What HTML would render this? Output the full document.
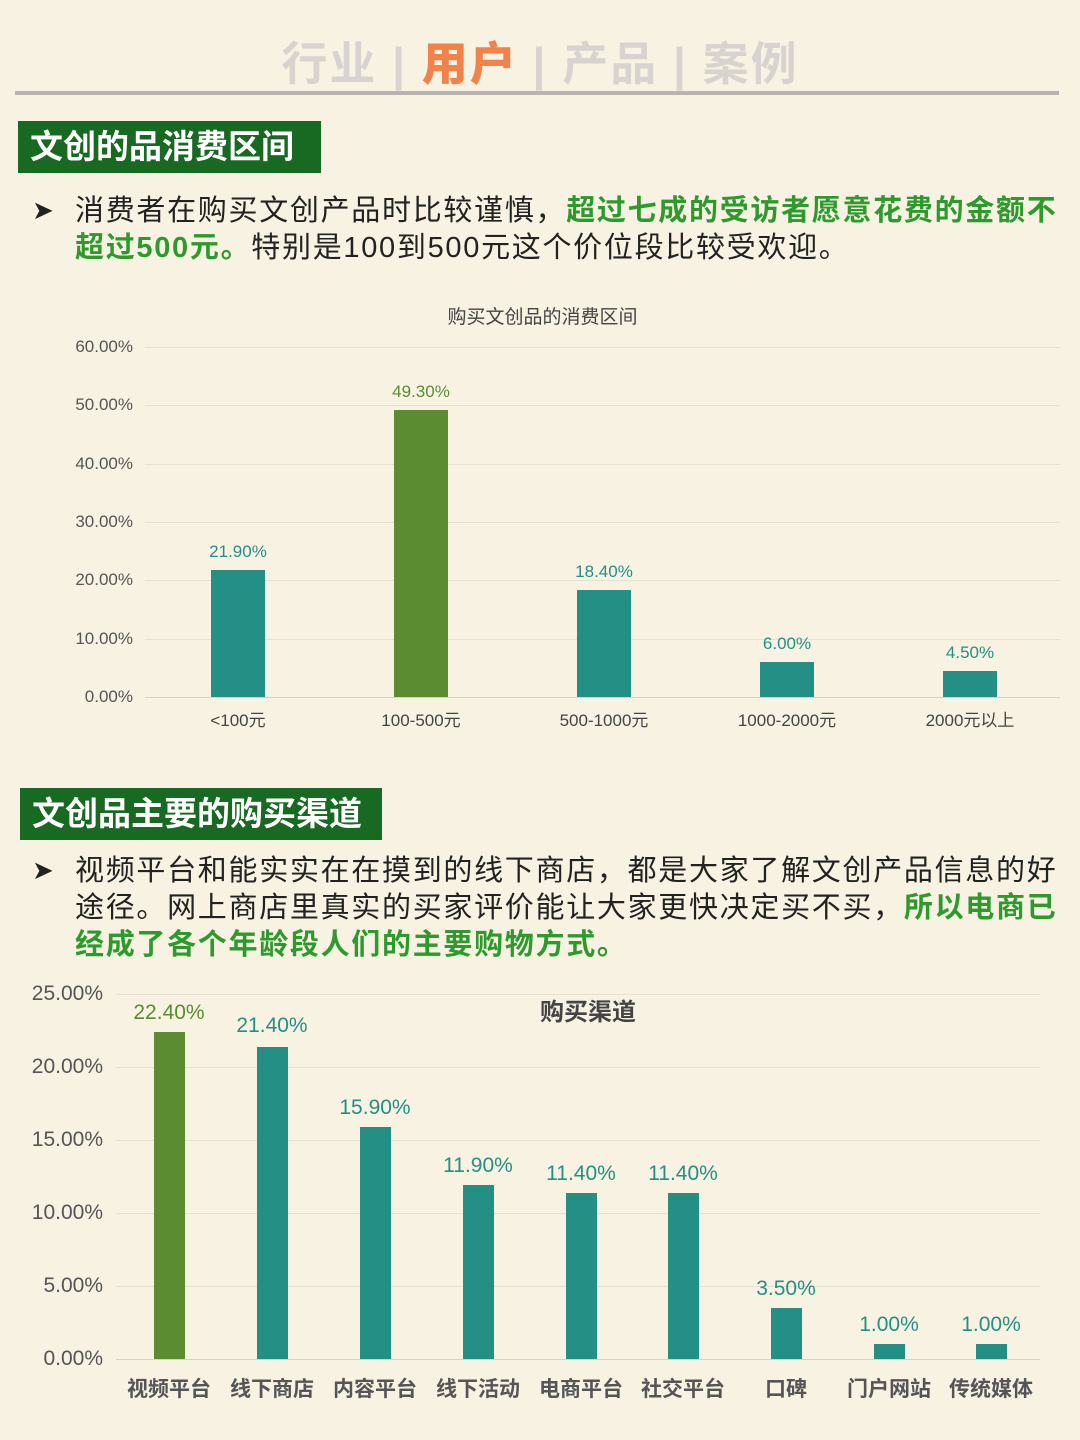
<!DOCTYPE html>
<html><head><meta charset="utf-8"><style>
*{margin:0;padding:0;box-sizing:border-box}
body{width:1080px;height:1440px;background:#f7f2e2;position:relative;overflow:hidden;font-family:"Liberation Sans","Noto Sans CJK SC",sans-serif;color:#222}
.a{position:absolute}
.nav{top:28px;left:0;width:1080px;text-align:center;font-size:46px;font-weight:bold;color:#d9d3cf;letter-spacing:2px}
.nav b{color:#f0824a}
.hd{background:#186a22;color:#fff;font-size:33px;height:52px;line-height:52px;padding-left:12px;font-weight:bold}
.p{font-size:29px;line-height:37px;left:75px;width:992px;letter-spacing:1.7px}
.g{color:#2e9a2e;font-weight:bold}
.arr{font-size:26px;left:32px}
.gl{height:1px;background:#e6e0d0}
.yl{font-size:17px;color:#555;text-align:right}
.bar{background:#248f85}
.v{font-size:17px;color:#248f85;text-align:center;width:120px}
.xl{font-size:17px;color:#444;text-align:center;width:160px}
.yl2{font-size:21px;color:#555;text-align:right;width:90px}
.v2{font-size:21px;color:#248f85;text-align:center;width:120px}
.xl2{font-size:21px;color:#555;text-align:center;width:110px;font-weight:bold}
</style></head><body>
<div class="a nav">行业 | <b>用户</b> | 产品 | 案例</div>
<div class="a" style="left:15px;top:91px;width:1044px;height:4px;background:#b8b3b0"></div>
<div class="a hd" style="left:18px;top:121px;width:303px">文创的品消费区间</div>
<div class="a arr" style="top:195px">➤</div>
<div class="a p" style="top:193px">消费者在购买文创产品时比较谨慎，<span class="g">超过七成的受访者愿意花费的金额不超过500元。</span>特别是100到500元这个价位段比较受欢迎。</div>

<div class="a" style="left:0;top:302px;width:1085px;text-align:center;font-size:19px;color:#444">购买文创品的消费区间</div>
<div class="a gl" style="left:145px;top:347px;width:915px"></div>
<div class="a gl" style="left:145px;top:405px;width:915px"></div>
<div class="a gl" style="left:145px;top:464px;width:915px"></div>
<div class="a gl" style="left:145px;top:522px;width:915px"></div>
<div class="a gl" style="left:145px;top:580px;width:915px"></div>
<div class="a gl" style="left:145px;top:639px;width:915px"></div>
<div class="a gl" style="left:145px;top:697px;width:915px;background:#d8d2c4"></div>
<div class="a yl" style="left:40px;top:337px;width:93px">60.00%</div>
<div class="a yl" style="left:40px;top:395px;width:93px">50.00%</div>
<div class="a yl" style="left:40px;top:454px;width:93px">40.00%</div>
<div class="a yl" style="left:40px;top:512px;width:93px">30.00%</div>
<div class="a yl" style="left:40px;top:570px;width:93px">20.00%</div>
<div class="a yl" style="left:40px;top:629px;width:93px">10.00%</div>
<div class="a yl" style="left:40px;top:687px;width:93px">0.00%</div>
<div class="a bar" style="left:211px;top:570px;width:54px;height:127px"></div>
<div class="a bar" style="left:394px;top:410px;width:54px;height:287px;background:#5b8c31"></div>
<div class="a bar" style="left:577px;top:590px;width:54px;height:107px"></div>
<div class="a bar" style="left:760px;top:662px;width:54px;height:35px"></div>
<div class="a bar" style="left:943px;top:671px;width:54px;height:26px"></div>
<div class="a v" style="left:178px;top:542px">21.90%</div>
<div class="a v" style="left:361px;top:382px;color:#5b8c31">49.30%</div>
<div class="a v" style="left:544px;top:562px">18.40%</div>
<div class="a v" style="left:727px;top:634px">6.00%</div>
<div class="a v" style="left:910px;top:643px">4.50%</div>
<div class="a xl" style="left:158px;top:706px">&lt;100元</div>
<div class="a xl" style="left:341px;top:706px">100-500元</div>
<div class="a xl" style="left:524px;top:706px">500-1000元</div>
<div class="a xl" style="left:707px;top:706px">1000-2000元</div>
<div class="a xl" style="left:890px;top:706px">2000元以上</div>

<div class="a hd" style="left:20px;top:788px;width:362px">文创品主要的购买渠道</div>
<div class="a arr" style="top:855px">➤</div>
<div class="a p" style="top:853px">视频平台和能实实在在摸到的线下商店，都是大家了解文创产品信息的好途径。网上商店里真实的买家评价能让大家更快决定买不买，<span class="g">所以电商已经成了各个年龄段人们的主要购物方式。</span></div>

<div class="a" style="left:540px;top:992px;font-size:24px;color:#444;font-weight:bold">购买渠道</div>
<div class="a gl" style="left:116px;top:994px;width:924px"></div>
<div class="a gl" style="left:116px;top:1067px;width:924px"></div>
<div class="a gl" style="left:116px;top:1140px;width:924px"></div>
<div class="a gl" style="left:116px;top:1213px;width:924px"></div>
<div class="a gl" style="left:116px;top:1286px;width:924px"></div>
<div class="a gl" style="left:116px;top:1359px;width:924px;background:#d8d2c4"></div>
<div class="a yl2" style="left:13px;top:982px">25.00%</div>
<div class="a yl2" style="left:13px;top:1055px">20.00%</div>
<div class="a yl2" style="left:13px;top:1128px">15.00%</div>
<div class="a yl2" style="left:13px;top:1201px">10.00%</div>
<div class="a yl2" style="left:13px;top:1274px">5.00%</div>
<div class="a yl2" style="left:13px;top:1347px">0.00%</div>
<div class="a bar" style="left:154px;top:1032px;width:31px;height:327px;background:#5b8c31"></div>
<div class="a bar" style="left:257px;top:1047px;width:31px;height:312px"></div>
<div class="a bar" style="left:360px;top:1127px;width:31px;height:232px"></div>
<div class="a bar" style="left:463px;top:1185px;width:31px;height:174px"></div>
<div class="a bar" style="left:566px;top:1193px;width:31px;height:166px"></div>
<div class="a bar" style="left:668px;top:1193px;width:31px;height:166px"></div>
<div class="a bar" style="left:771px;top:1308px;width:31px;height:51px"></div>
<div class="a bar" style="left:874px;top:1344px;width:31px;height:15px"></div>
<div class="a bar" style="left:976px;top:1344px;width:31px;height:15px"></div>
<div class="a v2" style="left:109px;top:1001px;color:#5b8c31">22.40%</div>
<div class="a v2" style="left:212px;top:1014px">21.40%</div>
<div class="a v2" style="left:315px;top:1096px">15.90%</div>
<div class="a v2" style="left:418px;top:1154px">11.90%</div>
<div class="a v2" style="left:521px;top:1162px">11.40%</div>
<div class="a v2" style="left:623px;top:1162px">11.40%</div>
<div class="a v2" style="left:726px;top:1277px">3.50%</div>
<div class="a v2" style="left:829px;top:1313px">1.00%</div>
<div class="a v2" style="left:931px;top:1313px">1.00%</div>
<div class="a xl2" style="left:114px;top:1373px">视频平台</div>
<div class="a xl2" style="left:217px;top:1373px">线下商店</div>
<div class="a xl2" style="left:320px;top:1373px">内容平台</div>
<div class="a xl2" style="left:423px;top:1373px">线下活动</div>
<div class="a xl2" style="left:526px;top:1373px">电商平台</div>
<div class="a xl2" style="left:628px;top:1373px">社交平台</div>
<div class="a xl2" style="left:731px;top:1373px">口碑</div>
<div class="a xl2" style="left:834px;top:1373px">门户网站</div>
<div class="a xl2" style="left:936px;top:1373px">传统媒体</div>
</body></html>
